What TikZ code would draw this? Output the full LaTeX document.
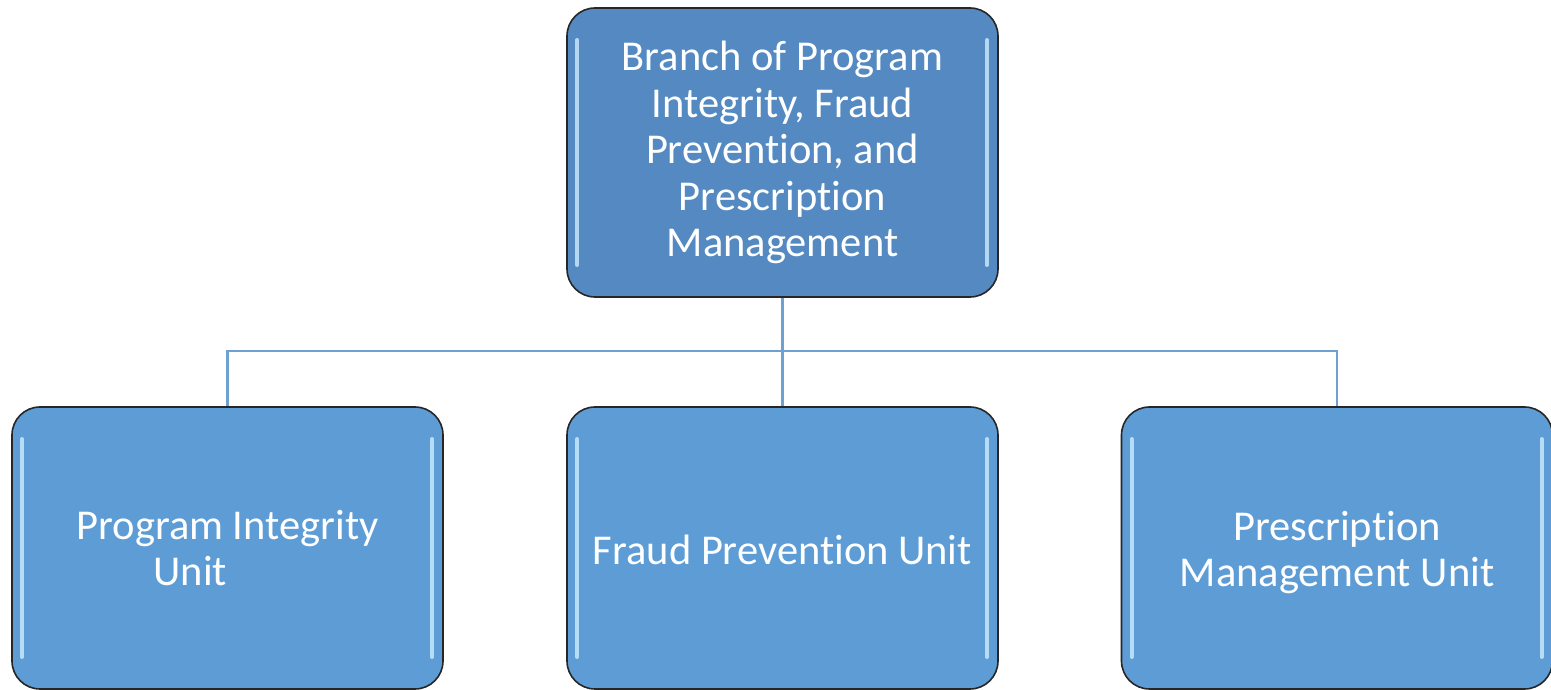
\documentclass[tikz,border=0pt]{standalone}
\usepackage{fontspec}
\setmainfont[Ligatures={NoCommon}]{Carlito}
\definecolor{topfill}{RGB}{84,138,193}
\definecolor{botfill}{RGB}{93,156,213}
\definecolor{linkc}{RGB}{110,160,210}
\definecolor{hilite}{RGB}{205,236,255}
\tikzset{
  unitbox/.style={draw=black!85, line width=1.6pt, rounded corners=28pt,
    text=white, align=center, inner sep=0pt, minimum width=431pt,
    font=\fontsize{42.5}{46.5}\selectfont,
    path picture={
      \draw[hilite, line width=4pt, line cap=round, opacity=0.8]
        ([shift={(10pt,-32pt)}]path picture bounding box.north west) --
        ([shift={(10pt,32pt)}]path picture bounding box.south west);
      \draw[hilite, line width=4pt, line cap=round, opacity=0.8]
        ([shift={(-11pt,-32pt)}]path picture bounding box.north east) --
        ([shift={(-11pt,32pt)}]path picture bounding box.south east);
    }},
  link/.style={draw=linkc, line width=2.6pt}
}
\begin{document}
\begin{tikzpicture}[x=1pt,y=1pt]
\useasboundingbox (0,0) rectangle (1551,690);
\node[unitbox, fill=topfill, minimum height=289pt] (top) at (782.5,537.5)
  {Branch of Program\\Integrity, Fraud\\Prevention, and\\Prescription\\Management};
\node[unitbox, fill=botfill, minimum height=282pt] (left) at (227.5,142)
  {Program Integrity\\\makebox[148pt][l]{Unit}};
\node[unitbox, fill=botfill, minimum height=282pt] (mid) at (782.5,142)
  {\raisebox{-2pt}[\height][\depth]{Fraud Prevention Unit}};
\node[unitbox, fill=botfill, minimum height=282pt] (right) at (1337,142)
  {\raisebox{-6pt}[\height][\depth]{\begin{tabular}{@{}c@{}}Prescription\\Management Unit\end{tabular}}};
\coordinate (bus) at (782.5,339);
\draw[link] (top.south) -- (mid.north);
\draw[link] (left.north) |- (bus) -| (right.north);
\end{tikzpicture}
\end{document}
